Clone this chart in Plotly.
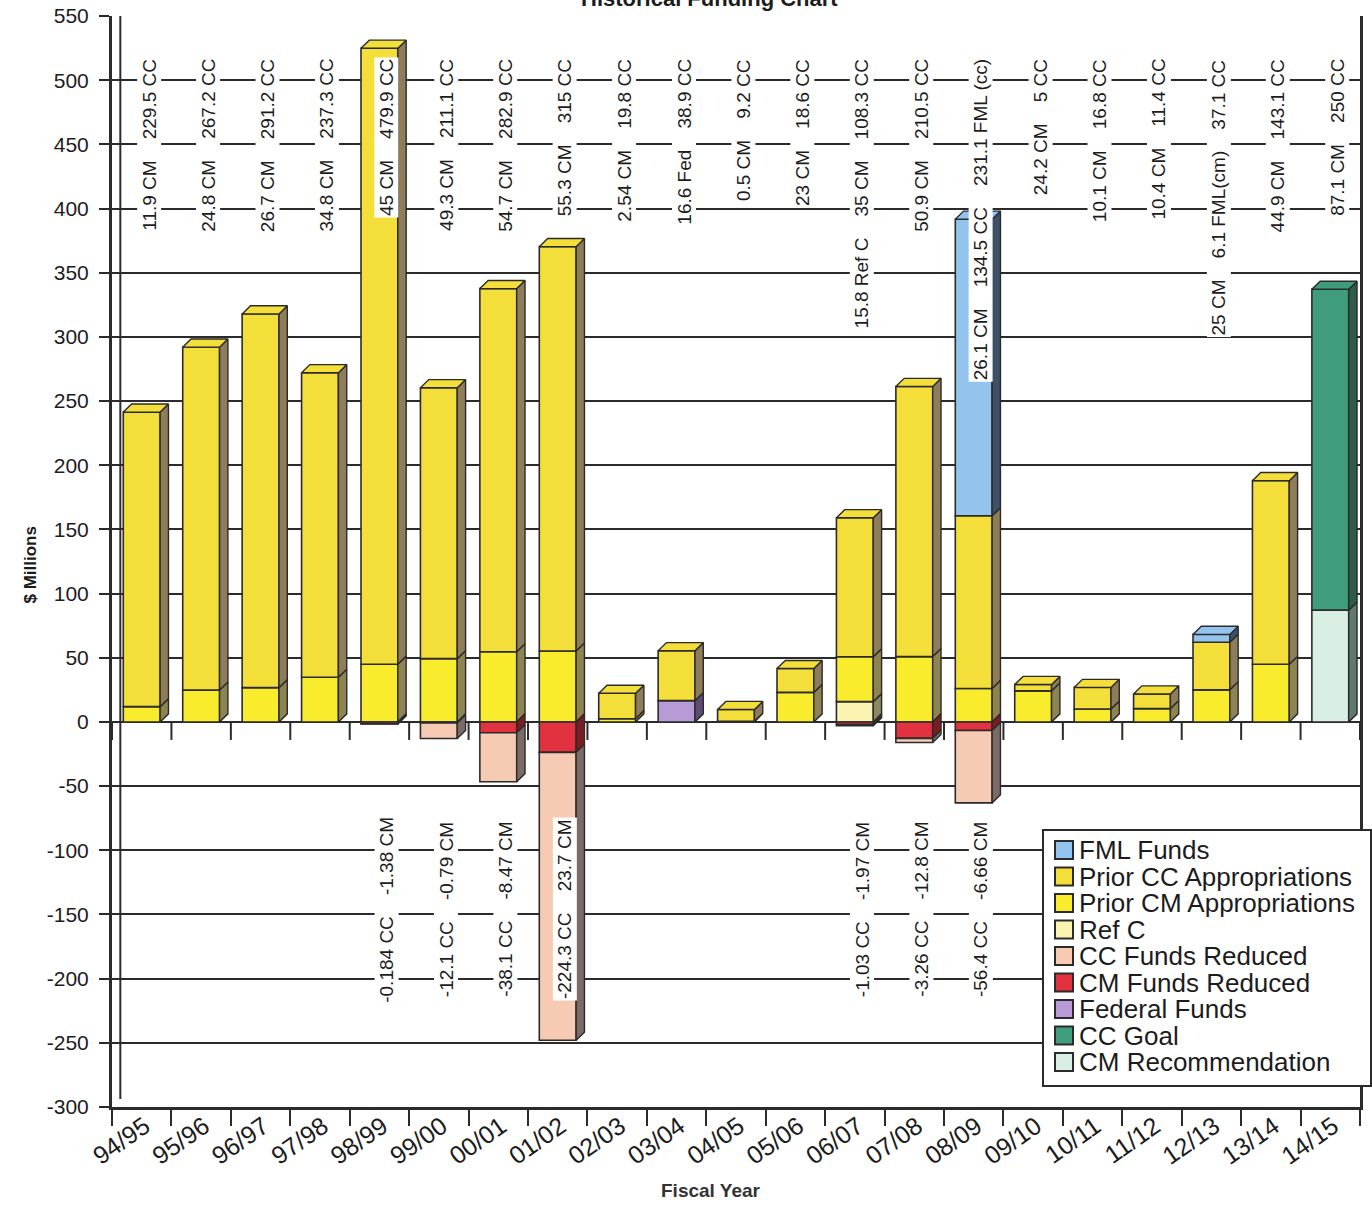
import plotly.graph_objects as go

# ---------------------------------------------------------------- data
years = ["94/95", "95/96", "96/97", "97/98", "98/99", "99/00", "00/01",
         "01/02", "02/03", "03/04", "04/05", "05/06", "06/07", "07/08",
         "08/09", "09/10", "10/11", "11/12", "12/13", "13/14", "14/15"]

# positive funding sources ($ millions), stacked bottom -> top in this order
ref_c = [0, 0, 0, 0, 0, 0, 0, 0, 0, 0, 0, 0, 15.8, 0, 0, 0, 0, 0, 0, 0, 0]
federal = [0, 0, 0, 0, 0, 0, 0, 0, 0, 16.6, 0, 0, 0, 0, 0, 0, 0, 0, 0, 0, 0]
prior_cm = [11.9, 24.8, 26.7, 34.8, 45, 49.3, 54.7, 55.3, 2.54, 0, 0.5, 23,
            35, 50.9, 26.1, 24.2, 10.1, 10.4, 25, 44.9, 0]
prior_cc = [229.5, 267.2, 291.2, 237.3, 479.9, 211.1, 282.9, 315, 19.8, 38.9,
            9.2, 18.6, 108.3, 210.5, 134.5, 5, 16.8, 11.4, 37.1, 143.1, 0]
fml = [0, 0, 0, 0, 0, 0, 0, 0, 0, 0, 0, 0, 0, 0, 231.1, 0, 0, 0, 6.1, 0, 0]
cm_rec = [0] * 20 + [87.1]
cc_goal = [0] * 20 + [250]

# reductions, stacked downward from zero in this order
cm_reduced = [0, 0, 0, 0, -1.38, -0.79, -8.47, -23.7, 0, 0, 0, 0, -1.97,
              -12.8, -6.66, 0, 0, 0, 0, 0, 0]
cc_reduced = [0, 0, 0, 0, -0.184, -12.1, -38.1, -224.3, 0, 0, 0, 0, -1.03,
              -3.26, -56.4, 0, 0, 0, 0, 0, 0]

# value captions written above / below each fiscal year
top_label_parts = [
    ["11.9 CM", "229.5 CC"], ["24.8 CM", "267.2 CC"], ["26.7 CM", "291.2 CC"],
    ["34.8 CM", "237.3 CC"], ["45 CM", "479.9 CC"], ["49.3 CM", "211.1 CC"],
    ["54.7 CM", "282.9 CC"], ["55.3 CM", "315 CC"], ["2.54 CM", "19.8 CC"],
    ["16.6 Fed", "38.9 CC"], ["0.5 CM", "9.2 CC"], ["23 CM", "18.6 CC"],
    ["15.8 Ref C", "35 CM", "108.3 CC"], ["50.9 CM", "210.5 CC"],
    ["26.1 CM", "134.5 CC", "231.1 FML (cc)"], ["24.2 CM", "5 CC"],
    ["10.1 CM", "16.8 CC"], ["10.4 CM", "11.4 CC"],
    ["25 CM", "6.1 FML(cm)", "37.1 CC"], ["44.9 CM", "143.1 CC"],
    ["87.1 CM", "250 CC"],
]
bottom_label_parts = {
    4: ["-0.184 CC", "-1.38 CM"],
    5: ["-12.1 CC", "-0.79 CM"],
    6: ["-38.1 CC", "-8.47 CM"],
    7: ["-224.3 CC", "23.7 CM"],
    12: ["-1.03 CC", "-1.97 CM"],
    13: ["-3.26 CC", "-12.8 CM"],
    14: ["-56.4 CC", "-6.66 CM"],
}

y_ticks = list(range(550, -301, -50))

# ---------------------------------------------------------------- styling
FONT = "Liberation Sans, Arial, sans-serif"
INK = "#2b2b2b"
W = 0.62            # bar width (category units)
DX, DY = 0.14, 6.3  # 3-D depth offset (category units, $M)

# name, values, face colour, side colour
positive_series = [
    ("Ref C", ref_c, "#FBF3B2", "#8C8862"),
    ("Federal Funds", federal, "#B79AD6", "#5E4C70"),
    ("Prior CM Appropriations", prior_cm, "#F8EC2C", "#8E8452"),
    ("Prior CC Appropriations", prior_cc, "#F4DE3A", "#8E7D58"),
    ("FML Funds", fml, "#93C4EE", "#3C5068"),
    ("CM Recommendation", cm_rec, "#D9EFE3", "#5E7A6C"),
    ("CC Goal", cc_goal, "#3F9D7D", "#2D5C4A"),
]
negative_series = [
    ("CM Funds Reduced", cm_reduced, "#E2323F", "#7A1C22"),
    ("CC Funds Reduced", cc_reduced, "#F7CBB3", "#7C6A66"),
]
legend_order = ["FML Funds", "Prior CC Appropriations", "Prior CM Appropriations",
                "Ref C", "CC Funds Reduced", "CM Funds Reduced", "Federal Funds",
                "CC Goal", "CM Recommendation"]

n = len(years)
fig = go.Figure()

# stack the segments
segments = []  # (series name, i, lo, hi)
pos_top = [0.0] * n
neg_bot = [0.0] * n
bar_specs = []
for name, vals, face, side in positive_series:
    xs, ys, bases = [], [], []
    for i, v in enumerate(vals):
        if v:
            xs.append(i); ys.append(v); bases.append(pos_top[i])
            segments.append((name, i, pos_top[i], pos_top[i] + v))
            pos_top[i] += v
    bar_specs.append((name, xs, ys, bases, face, side))
for name, vals, face, side in negative_series:
    xs, ys, bases = [], [], []
    for i, v in enumerate(vals):
        if v:
            xs.append(i); ys.append(v); bases.append(neg_bot[i])
            segments.append((name, i, neg_bot[i] + v, neg_bot[i]))
            neg_bot[i] += v
    bar_specs.append((name, xs, ys, bases, face, side))

side_colour = {s[0]: s[3] for s in positive_series + negative_series}
face_colour = {s[0]: s[2] for s in positive_series + negative_series}

# front faces
for name, xs, ys, bases, face, side in bar_specs:
    fig.add_trace(go.Bar(
        x=xs, y=ys, base=bases, width=W, name=name, showlegend=False,
        marker=dict(color=face, line=dict(color=INK, width=1.6)),
        hoverinfo="skip"))

# side and top faces of the extruded boxes
for name in side_colour:
    px, py, tx, ty = [], [], [], []
    for sname, i, lo, hi in segments:
        if sname != name:
            continue
        r = i + W / 2
        px += [r, r + DX, r + DX, r, r, None]
        py += [lo, lo + DY, hi + DY, hi, lo, None]
        if hi > 0 and abs(hi - pos_top[i]) < 1e-9:
            l = i - W / 2
            tx += [l, l + DX, r + DX, r, l, None]
            ty += [hi, hi + DY, hi + DY, hi, hi, None]
    if px:
        fig.add_trace(go.Scatter(
            x=px, y=py, mode="lines", fill="toself", fillcolor=side_colour[name],
            line=dict(color=INK, width=1.4), showlegend=False, hoverinfo="skip"))
    if tx:
        fig.add_trace(go.Scatter(
            x=tx, y=ty, mode="lines", fill="toself", fillcolor=face_colour[name],
            line=dict(color=INK, width=1.4), showlegend=False, hoverinfo="skip"))

# ---------------------------------------------------------------- captions
GAP = "\u00a0" * 4
CAPTION_FONT = dict(family=FONT, size=19, color="#1c1c1c")
annotations = []
for i, parts in enumerate(top_label_parts):
    annotations.append(dict(
        x=i, y=518, xref="x", yref="y", xshift=7, text=GAP.join(parts),
        textangle=-90, yanchor="top", xanchor="center", showarrow=False,
        bgcolor="white", borderpad=1, font=CAPTION_FONT))
for i, parts in bottom_label_parts.items():
    annotations.append(dict(
        x=i, y=-146, xref="x", yref="y", xshift=7, text=GAP.join(parts),
        textangle=-90, yanchor="middle", xanchor="center", showarrow=False,
        bgcolor="white", borderpad=1, font=CAPTION_FONT))

# ---------------------------------------------------------------- layout geometry
FIG_W, FIG_H = 1372, 1216
L, R, T, B = 112, 12, 16, 109
PW, PH = FIG_W - L - R, FIG_H - T - B


def pxx(p):
    return (p - L) / PW


def pxy(p):
    return (FIG_H - B - p) / PH


# titles
annotations.append(dict(x=pxx(709), y=1, xref="paper", yref="paper", yanchor="bottom",
                        yshift=3, text="<b>Historical Funding Chart</b>", showarrow=False,
                        font=dict(family=FONT, size=22, color="#1c1c1c")))
annotations.append(dict(x=pxx(711), y=pxy(1203), xref="paper", yref="paper",
                        text="<b>Fiscal Year</b>", showarrow=False,
                        font=dict(family=FONT, size=19, color="#333333")))
annotations.append(dict(x=pxx(18), y=pxy(565), xref="paper", yref="paper", textangle=-90,
                        text="<b>$ Millions</b>", showarrow=False,
                        font=dict(family=FONT, size=17, color="#1c1c1c")))

shapes = []
# back edge of the left wall
shapes.append(dict(type="line", xref="x", yref="y", x0=-0.5 + DX, x1=-0.5 + DX,
                   y0=-300 + DY, y1=550, line=dict(color=INK, width=2)))
# tick marks hanging from the zero floor at each category boundary
for k in range(n + 1):
    shapes.append(dict(type="line", xref="x", yref="y", x0=k - 0.5, x1=k - 0.5,
                       ysizemode="pixel", yanchor=0, y0=0, y1=-18,
                       line=dict(color=INK, width=2)))

# legend box
LG_X0, LG_X1, LG_Y0, LG_Y1 = 1043, 1371, 830, 1086
shapes.append(dict(type="rect", xref="paper", yref="paper",
                   x0=pxx(LG_X0), x1=pxx(LG_X1), y0=pxy(LG_Y1), y1=pxy(LG_Y0),
                   fillcolor="white", line=dict(color=INK, width=2), layer="above"))
for k, name in enumerate(legend_order):
    cy = 850 + 26.5 * k
    shapes.append(dict(type="rect", xref="paper", yref="paper",
                       x0=pxx(1055), x1=pxx(1073), y0=pxy(cy + 9), y1=pxy(cy - 9),
                       fillcolor=face_colour[name], line=dict(color=INK, width=2),
                       layer="above"))
    annotations.append(dict(x=pxx(1077), y=pxy(cy), xref="paper", yref="paper",
                            xanchor="left", yanchor="middle", text=name, showarrow=False,
                            font=dict(family=FONT, size=26, color="#1c1c1c")))

fig.update_layout(
    width=FIG_W, height=FIG_H,
    margin=dict(l=L, r=R, t=T, b=B, pad=0, autoexpand=False),
    paper_bgcolor="white", plot_bgcolor="white",
    barmode="overlay", showlegend=False,
    annotations=annotations, shapes=shapes,
    xaxis=dict(range=[-0.5, n - 0.5], tickmode="array", tickvals=list(range(n)),
               ticktext=years, tickangle=-35, ticks="", showgrid=False, zeroline=False,
               showline=True, linecolor=INK, linewidth=3, automargin=False,
               ticklabelshift=3, ticklabelstandoff=-8,
               tickfont=dict(family=FONT, size=25, color="#1c1c1c"),
               minor=dict(tickmode="array", tickvals=[k - 0.5 for k in range(n + 1)],
                          ticks="outside", ticklen=16, tickwidth=2, tickcolor=INK,
                          showgrid=False)),
    yaxis=dict(range=[-300, 550], tickmode="array", tickvals=y_ticks,
               ticktext=[str(v) for v in y_ticks], ticks="outside", ticklen=10,
               tickwidth=2, tickcolor=INK, showgrid=True, gridcolor=INK, gridwidth=2,
               zeroline=False, showline=True, linecolor=INK, linewidth=3, mirror=True,
               ticklabelstandoff=6, automargin=False,
               tickfont=dict(family=FONT, size=21, color="#1c1c1c")),
)

fig.write_html("out.html")
